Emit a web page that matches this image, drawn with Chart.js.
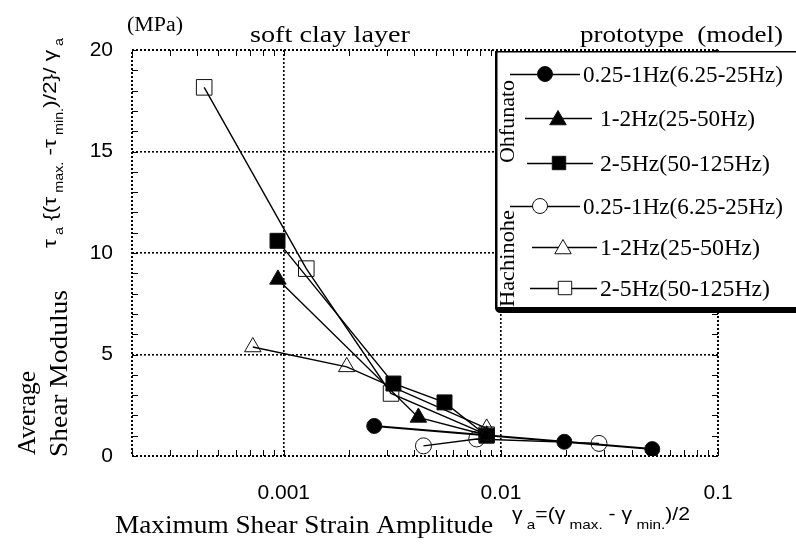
<!DOCTYPE html>
<html>
<head>
<meta charset="utf-8">
<script src="https://cdn.jsdelivr.net/npm/chart.js@4.4.0/dist/chart.umd.min.js"></script>
<style>
  html, body { margin: 0; padding: 0; background: #fff; }
  canvas { display: block; }
</style>
</head>
<body>
<canvas id="myChart" width="796" height="544" style="width:796px;height:544px"></canvas>
<script>
// strain amplitude (x) vs average shear modulus in MPa (y)
// Ohfunato = filled markers, Hachinohe = open markers
var ohfLowX = [0.00261, 0.0196, 0.0498];
var ohfLowY = [1.48, 0.70, 0.34];
var ohfMidX = [0.00094, 0.00417, 0.0086];
var ohfMidY = [8.7, 1.9, 1.02];
var ohfHighX = [0.000936, 0.0032, 0.0055, 0.0086];
var ohfHighY = [10.6, 3.57, 2.64, 1.0];
var hacLowX = [0.0044, 0.00774, 0.0283];
var hacLowY = [0.5, 0.84, 0.62];
var hacMidX = [0.00072, 0.00195, 0.0086];
var hacMidY = [5.37, 4.39, 1.36];
var hacHighX = [0.00043, 0.00127, 0.00312, 0.0086];
var hacHighY = [18.16, 9.23, 3.08, 1.05];

var seriesNames = ['0.25-1Hz(6.25-25Hz)', '1-2Hz(25-50Hz)', '2-5Hz(50-125Hz)',
                   '0.25-1Hz(6.25-25Hz)', '1-2Hz(25-50Hz)', '2-5Hz(50-125Hz)'];
var sites = ['Ohfunato', 'Hachinohe'];

var xTicks = [0.0002, 0.0003, 0.0004, 0.0005, 0.0006, 0.0007, 0.0008, 0.0009,
              0.001, 0.002, 0.003, 0.004, 0.005, 0.006, 0.007, 0.008, 0.009,
              0.01, 0.02, 0.03, 0.04, 0.05, 0.06, 0.07, 0.08, 0.09, 0.1];
var xLabelVals = [0.001, 0.01, 0.1];
var xLabels = ['0.001', '0.01', '0.1'];
var xGridVals = [0.001, 0.01];
var yTicks = [0, 1, 2, 3, 4, 5, 6, 7, 8, 9, 10, 11, 12, 13, 14, 15, 16, 17, 18, 19, 20];
var yLabelVals = [0, 5, 10, 15, 20];
var yGridVals = [5, 10, 15];

var SERIF = '"Liberation Serif", "Times New Roman", serif';
var SANS = '"Liberation Sans", Arial, sans-serif';

function pts(xs, ys) {
    return xs.map(function (x, i) { return { x: x, y: ys[i] }; });
}
function near(list, v) {
    for (var i = 0; i < list.length; i++) {
        if (Math.abs(list[i] - v) < list[i] * 1e-6 + 1e-9) return i;
    }
    return -1;
}

function ds(label, xs, ys, style, filled, radius, lw) {
    return {
        label: label,
        data: pts(xs, ys),
        showLine: true,
        borderColor: '#000',
        borderWidth: lw,
        pointStyle: style,
        pointRadius: radius,
        pointBackgroundColor: filled ? '#000' : 'rgba(0,0,0,0)',
        pointBorderColor: '#111',
        pointBorderWidth: 1,
        tension: 0
    };
}

// text squeezed/stretched to a given width
function fitText(ctx, text, x, y, w) {
    var mw = ctx.measureText(text).width;
    ctx.save();
    ctx.translate(x, y);
    ctx.scale(w / mw, 1);
    ctx.fillText(text, 0, 0);
    ctx.restore();
}
// text with subscripts, fitted to width w
function richText(ctx, parts, x, y, w, mainFont, subFont, subDy) {
    var total = 0;
    parts.forEach(function (p) {
        ctx.font = p[1] ? subFont : mainFont;
        total += ctx.measureText(p[0]).width;
    });
    ctx.save();
    ctx.translate(x, y);
    ctx.scale(w / total, 1);
    var cx = 0;
    parts.forEach(function (p) {
        ctx.font = p[1] ? subFont : mainFont;
        ctx.fillText(p[0], cx, p[1] ? subDy : 0);
        cx += ctx.measureText(p[0]).width;
    });
    ctx.restore();
}
function marker(ctx, style, x, y, r, filled) {
    ctx.beginPath();
    if (style === 'circle') {
        ctx.arc(x, y, r, 0, Math.PI * 2);
    } else if (style === 'triangle') {
        for (var k = 0; k < 3; k++) {
            var a = k * 2 * Math.PI / 3;
            var px = x + Math.sin(a) * r, py = y - Math.cos(a) * r;
            if (k === 0) ctx.moveTo(px, py); else ctx.lineTo(px, py);
        }
        ctx.closePath();
    } else {
        var s = r * Math.SQRT1_2;
        ctx.rect(x - s, y - s, 2 * s, 2 * s);
    }
    if (filled) { ctx.fillStyle = '#000'; ctx.fill(); }
    else { ctx.fillStyle = '#fff'; ctx.fill(); }
    ctx.lineWidth = 1;
    ctx.strokeStyle = '#111';
    ctx.stroke();
}

var framePlugin = {
    id: 'frame',
    beforeDatasetsDraw: function (chart) {
        var ctx = chart.ctx, a = chart.chartArea;
        var xs = chart.scales.x, ys = chart.scales.y;
        ctx.save();
        ctx.strokeStyle = '#000';
        ctx.lineWidth = 1;
        ctx.setLineDash([]);
        xTicks.forEach(function (v) {
            var px = Math.round(xs.getPixelForValue(v)) + 0.5;
            ctx.beginPath();
            ctx.moveTo(px, a.bottom); ctx.lineTo(px, a.bottom - 6);
            ctx.moveTo(px, a.top); ctx.lineTo(px, a.top + 6);
            ctx.stroke();
        });
        yTicks.forEach(function (v) {
            var py = Math.round(ys.getPixelForValue(v)) + 0.5;
            ctx.beginPath();
            ctx.moveTo(a.left, py); ctx.lineTo(a.left + 6, py);
            ctx.moveTo(a.right, py); ctx.lineTo(a.right - 6, py);
            ctx.stroke();
        });
        ctx.lineWidth = 2;
        ctx.setLineDash([2, 2]);
        ctx.beginPath();
        ctx.rect(Math.round(a.left), Math.round(a.top), Math.round(a.right - a.left), Math.round(a.bottom - a.top));
        ctx.stroke();
        ctx.restore();
    },
    afterDraw: function (chart) {
        var ctx = chart.ctx;
        ctx.save();
        ctx.fillStyle = '#000';
        ctx.textBaseline = 'alphabetic';
        ctx.textAlign = 'left';

        // top texts
        ctx.font = '20px ' + SERIF;
        fitText(ctx, '(MPa)', 127, 31, 56);
        ctx.font = '23px ' + SERIF;
        fitText(ctx, 'soft clay layer', 250, 42, 160);
        fitText(ctx, 'prototype  (model)', 580, 42, 203);

        // legend box
        var L = 495, T = 51, B = 313;
        ctx.fillStyle = '#fff';
        ctx.fillRect(L, T, 320, B - T);
        ctx.fillStyle = '#000';
        ctx.fillRect(L, T, 320, 1.5);
        ctx.fillRect(L, T, 2.5, B - T - 4);
        ctx.beginPath();
        ctx.moveTo(L, B - 6);
        ctx.quadraticCurveTo(L, B, L + 6, B);
        ctx.lineTo(820, B);
        ctx.lineTo(820, B - 6);
        ctx.lineTo(L + 3, B - 6);
        ctx.closePath();
        ctx.fill();

        var rows = [
            { y: 74, l1: 510, l2: 580, m: 545, t: 583, w: 200, s: 'circle', f: true },
            { y: 118, l1: 525, l2: 592, m: 558, t: 600, w: 155, s: 'triangle', f: true },
            { y: 163, l1: 527, l2: 593, m: 559, t: 600, w: 170, s: 'rect', f: true },
            { y: 206, l1: 510, l2: 580, m: 540, t: 583, w: 200, s: 'circle', f: false },
            { y: 247, l1: 532, l2: 597, m: 563, t: 600, w: 160, s: 'triangle', f: false },
            { y: 288, l1: 530, l2: 597, m: 565, t: 600, w: 170, s: 'rect', f: false }
        ];
        rows.forEach(function (r, i) {
            ctx.strokeStyle = '#000';
            ctx.lineWidth = 1.3;
            ctx.setLineDash([]);
            ctx.beginPath();
            ctx.moveTo(r.l1, r.y + 0.5); ctx.lineTo(r.l2, r.y + 0.5);
            ctx.stroke();
            var rad = r.s === 'rect' ? 9.5 : (r.s === 'triangle' ? 9.5 : 7.5);
            marker(ctx, r.s, r.m, r.y + (r.s === 'triangle' ? 2 : 0), rad, r.f);
            ctx.fillStyle = '#000';
            ctx.font = '23px ' + SERIF;
            fitText(ctx, seriesNames[i], r.t, r.y + 8, r.w);
        });

        // site names, rotated
        ctx.font = '22px ' + SERIF;
        ctx.save();
        ctx.translate(514, 163);
        ctx.rotate(-Math.PI / 2);
        fitText(ctx, sites[0], 0, 0, 83);
        ctx.restore();
        ctx.save();
        ctx.translate(514, 307);
        ctx.rotate(-Math.PI / 2);
        fitText(ctx, sites[1], 0, 0, 97);
        ctx.restore();

        // x title
        ctx.font = '25px ' + SERIF;
        fitText(ctx, 'Maximum Shear Strain Amplitude', 115, 533, 378);
        richText(ctx, [['\u03b3', 0], [' a', 1], ['=(\u03b3', 0], [' max.', 1], [' - \u03b3', 0], [' min.', 1], [')/2', 0]],
                 512, 520, 178, '18px ' + SANS, '13px ' + SANS, 9);

        // y title
        ctx.save();
        ctx.translate(35, 455);
        ctx.rotate(-Math.PI / 2);
        ctx.font = '25px ' + SERIF;
        fitText(ctx, 'Average', 0, 0, 84);
        ctx.restore();
        ctx.save();
        ctx.translate(67, 457);
        ctx.rotate(-Math.PI / 2);
        ctx.font = '25px ' + SERIF;
        fitText(ctx, 'Shear Modulus', 0, 0, 167);
        ctx.restore();
        ctx.save();
        ctx.translate(56, 248);
        ctx.rotate(-Math.PI / 2);
        richText(ctx, [['\u03c4', 0], [' a', 1], [' {(\u03c4', 0], [' max.', 1], [' -\u03c4', 0], [' min.', 1], [')/2}/ \u03b3', 0], [' a', 1]],
                 0, 0, 210, '19px ' + SANS, '12px ' + SANS, 7);
        ctx.restore();

        ctx.restore();
    }
};

var ctx = document.getElementById('myChart').getContext('2d');
var chart = new Chart(ctx, {
    type: 'line',
    data: {
        datasets: [
            ds(seriesNames[0], ohfLowX, ohfLowY, 'circle', true, 7.5, 2),
            ds(seriesNames[1], ohfMidX, ohfMidY, 'triangle', true, 9.5, 1.4),
            ds(seriesNames[2], ohfHighX, ohfHighY, 'rect', true, 10.6, 1.4),
            ds(seriesNames[3], hacLowX, hacLowY, 'circle', false, 8, 1.4),
            ds(seriesNames[4], hacMidX, hacMidY, 'triangle', false, 9.5, 1.4),
            ds(seriesNames[5], hacHighX, hacHighY, 'rect', false, 11, 1.4)
        ]
    },
    options: {
        responsive: false,
        animation: false,
        layout: { padding: { top: 50, right: 78, left: 0, bottom: 0 } },
        plugins: {
            legend: { display: false },
            tooltip: { enabled: false }
        },
        scales: {
            x: {
                type: 'logarithmic',
                min: 0.0002,
                max: 0.1,
                afterBuildTicks: function (s) {
                    s.ticks = xTicks.map(function (v) { return { value: v }; });
                },
                afterFit: function (s) { s.height = 88; },
                ticks: {
                    autoSkip: false,
                    maxRotation: 0,
                    minRotation: 0,
                    padding: 25,
                    color: '#000',
                    font: { family: SANS, size: 21 },
                    callback: function (v) {
                        var i = near(xLabelVals, v);
                        return i >= 0 ? xLabels[i] : '';
                    }
                },
                grid: {
                    drawTicks: false,
                    lineWidth: 1.6,
                    color: function (c) {
                        return c.tick && near(xGridVals, c.tick.value) >= 0 ? '#000' : 'rgba(0,0,0,0)';
                    }
                },
                border: { display: false, dash: [2, 2] }
            },
            y: {
                type: 'linear',
                min: 0,
                max: 20,
                afterBuildTicks: function (s) {
                    s.ticks = yTicks.map(function (v) { return { value: v }; });
                },
                afterFit: function (s) { s.width = 132; },
                ticks: {
                    autoSkip: false,
                    padding: 19,
                    color: '#000',
                    font: { family: SANS, size: 21 },
                    callback: function (v) {
                        return near(yLabelVals, v) >= 0 ? String(v) : '';
                    }
                },
                grid: {
                    drawTicks: false,
                    lineWidth: 1.6,
                    color: function (c) {
                        return c.tick && near(yGridVals, c.tick.value) >= 0 ? '#000' : 'rgba(0,0,0,0)';
                    }
                },
                border: { display: false, dash: [2, 2] }
            }
        }
    },
    plugins: [framePlugin]
});
</script>
</body>
</html>
